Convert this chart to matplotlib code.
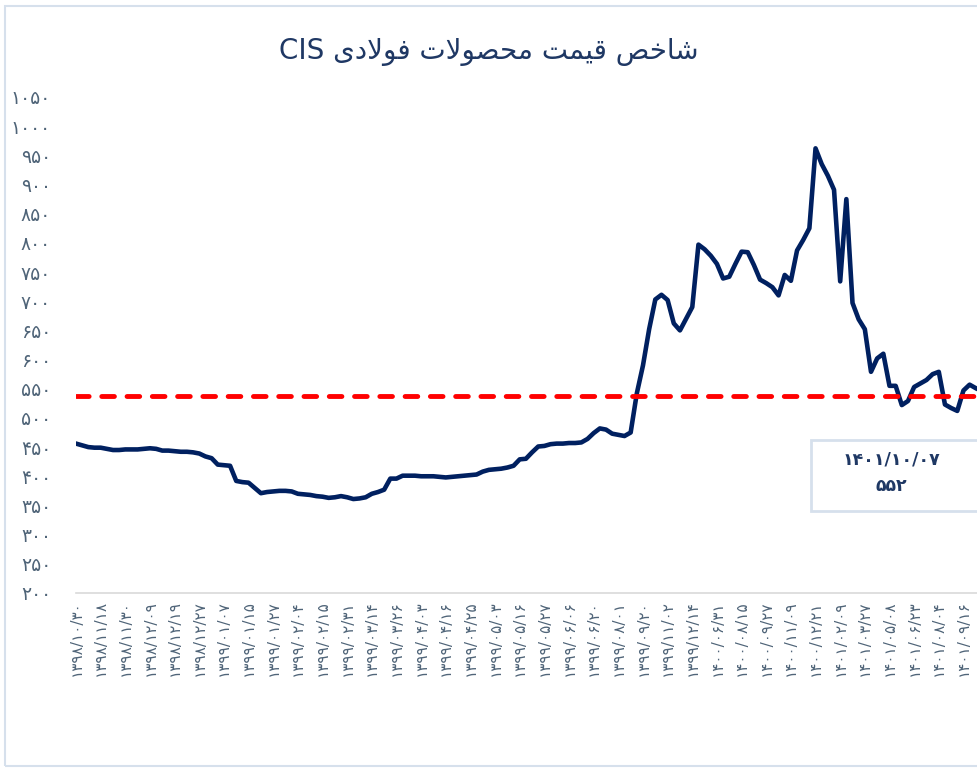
import numpy as np
import matplotlib
matplotlib.use('Agg')
import matplotlib.pyplot as plt
from matplotlib.ticker import FuncFormatter, MultipleLocator
from matplotlib.patches import Rectangle

# chart title (Persian text + latin part)
title_fa = 'شاخص قیمت محصولات فولادی'
title_en = 'CIS'

# category labels shown on the x axis (every 4th point)
tick_dates = ['1398/10/30', '1398/11/18', '1398/11/30', '1398/12/09', '1398/12/19',
              '1398/12/27', '1399/01/07', '1399/01/15', '1399/01/27', '1399/02/04',
              '1399/02/15', '1399/02/31', '1399/03/14', '1399/03/26', '1399/04/03',
              '1399/04/16', '1399/04/25', '1399/05/03', '1399/05/16', '1399/05/27',
              '1399/06/06', '1399/06/20', '1399/08/01', '1399/09/20', '1399/11/02',
              '1399/12/14', '1400/06/31', '1400/08/15', '1400/09/27', '1400/11/09',
              '1400/12/21', '1401/02/09', '1401/03/27', '1401/05/08', '1401/06/23',
              '1401/08/04', '1401/09/16']
label_step = 4

# CIS steel price index
cis_index = [456, 453, 450, 449, 449, 447, 445, 445, 446, 446,
             446, 447, 448, 447, 444, 444, 443, 442, 442, 441,
             439, 434, 431, 420, 419, 418, 392, 390, 389, 380,
             371, 373, 374, 375, 375, 374, 370, 369, 368, 366,
             365, 363, 364, 366, 364, 361, 362, 364, 370, 373,
             377, 396, 396, 401, 401, 401, 400, 400, 400, 399,
             398, 399, 400, 401, 402, 403, 408, 411, 412, 413,
             415, 418, 429, 430, 441, 451, 452, 455, 456, 456,
             457, 457, 458, 464, 474, 482, 480, 473, 471, 469,
             475, 542, 590, 652, 703, 711, 702, 662, 650, 670,
             690, 797, 789, 778, 764, 739, 742, 764, 785, 784,
             762, 737, 731, 724, 710, 745, 735, 787, 805, 825,
             962, 935, 915, 891, 734, 875, 697, 669, 652, 579,
             602, 610, 555, 555, 522, 529, 553, 559, 565, 575,
             579, 523, 517, 512, 547, 557, 551]

avg_level = 537
last_date = '1401/10/07'
last_value = 552

# persian digits
FA_DIGITS = str.maketrans('0123456789', '۰۱۲۳۴۵۶۷۸۹')

# contextual forms: isolated, final, initial, medial
FORMS = {
    'ا': ('\ufe8d', '\ufe8e', None, None),
    'ت': ('\ufe95', '\ufe96', '\ufe97', '\ufe98'),
    'ح': ('\ufea1', '\ufea2', '\ufea3', '\ufea4'),
    'خ': ('\ufea5', '\ufea6', '\ufea7', '\ufea8'),
    'د': ('\ufea9', '\ufeaa', None, None),
    'ش': ('\ufeb5', '\ufeb6', '\ufeb7', '\ufeb8'),
    'ص': ('\ufeb9', '\ufeba', '\ufebb', '\ufebc'),
    'ف': ('\ufed1', '\ufed2', '\ufed3', '\ufed4'),
    'ق': ('\ufed5', '\ufed6', '\ufed7', '\ufed8'),
    'ل': ('\ufedd', '\ufede', '\ufedf', '\ufee0'),
    'م': ('\ufee1', '\ufee2', '\ufee3', '\ufee4'),
    'و': ('\ufeed', '\ufeee', None, None),
    'ی': ('\ufeef', '\ufef0', '\ufef3', '\ufef4'),
}


def joins_left(c):
    return c in FORMS and FORMS[c][2] is not None


def shape_rtl(text):
    # pick joined letter forms, then reverse for left-to-right drawing
    out = []
    i = 0
    while i < len(text):
        c = text[i]
        if c not in FORMS:
            out.append(c)
            i += 1
            continue
        link_prev = i > 0 and joins_left(text[i - 1])
        if c == 'ل' and i + 1 < len(text) and text[i + 1] == 'ا':
            out.append('\ufefc' if link_prev else '\ufefb')
            i += 2
            continue
        nxt = text[i + 1] if i + 1 < len(text) else None
        link_next = joins_left(c) and nxt in FORMS
        iso, fin, ini, med = FORMS[c]
        if link_prev and link_next:
            out.append(med)
        elif link_prev:
            out.append(fin)
        elif link_next:
            out.append(ini)
        else:
            out.append(iso)
        i += 1
    return ''.join(out)[::-1]


plt.rcParams['font.family'] = ['DejaVu Sans']

fig = plt.figure(figsize=(9.77, 7.68), dpi=100)
ax = fig.add_axes([0.0778, 0.2279, 0.9222, 0.6458])

x = np.arange(len(cis_index))
ax.plot(x, cis_index, color='#002060', linewidth=3.3, solid_joinstyle='round')
ax.axhline(avg_level, color='#ff0000', linewidth=3.5, dashes=(2.6, 2.6),
           dash_capstyle='round')

ax.set_xlim(0, len(cis_index) - 0.8)
ax.set_ylim(200, 1050)
ax.yaxis.set_major_locator(MultipleLocator(50))
ax.yaxis.set_major_formatter(FuncFormatter(lambda v, p: str(int(v)).translate(FA_DIGITS)))

ax.set_xticks(x[::label_step][:len(tick_dates)])
ax.set_xticklabels([d.translate(FA_DIGITS) for d in tick_dates], rotation=90)

for s in ['top', 'right', 'left']:
    ax.spines[s].set_visible(False)
ax.spines['bottom'].set_color('#d9d9d9')
ax.spines['bottom'].set_linewidth(1.2)

ax.tick_params(axis='x', length=0, pad=5, labelsize=11, labelcolor='#4f6478')
ax.tick_params(axis='y', length=0, pad=18, labelsize=13.5, labelcolor='#4f6478')
for t in ax.get_yticklabels():
    t.set_horizontalalignment('right')

# title
fig.text(0.5, 0.932, title_en + ' ' + shape_rtl(title_fa), ha='center', va='center',
         fontsize=20, color='#1f3864')

# chart border
fig.patches.append(Rectangle((0.005, 0.003), 1.2, 0.989, transform=fig.transFigure,
                             fill=False, edgecolor='#d6e0ec', linewidth=1.5))

# last value callout
fig.patches.append(Rectangle((811 / 977, 1 - 511 / 768), 0.3, 71 / 768,
                             transform=fig.transFigure, facecolor='white',
                             edgecolor='#d6e0ec', linewidth=2))
fig.text(891 / 977, 1 - 460 / 768, last_date.translate(FA_DIGITS), ha='center',
         va='center', fontsize=12.5, fontweight='bold', color='#1f3864')
fig.text(891 / 977, 1 - 486 / 768, str(last_value).translate(FA_DIGITS), ha='center',
         va='center', fontsize=12.5, fontweight='bold', color='#1f3864')

plt.savefig('out.png', dpi=100)
